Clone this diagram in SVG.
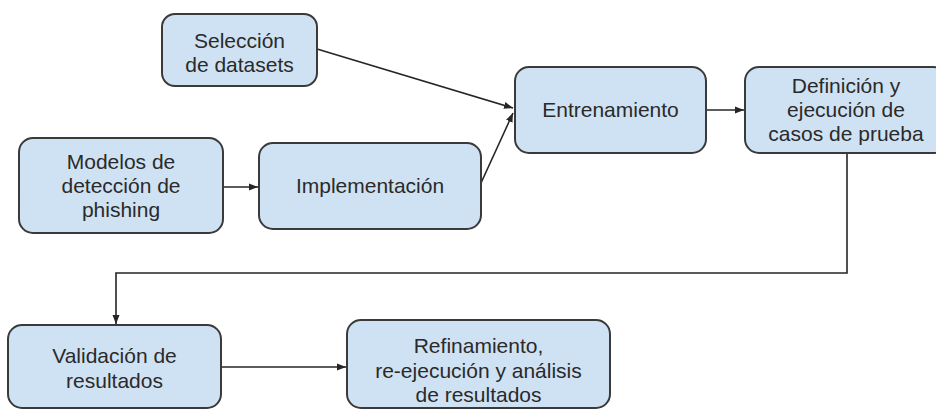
<svg xmlns="http://www.w3.org/2000/svg" width="936" height="410" viewBox="0 0 936 410">
<style>
.box{fill:#cfe2f3;stroke:#3a3a3a;stroke-width:2}
.t{font-family:"Liberation Sans",Arial,sans-serif;font-size:21px;fill:#2a2a2a;text-anchor:middle}
.c{fill:none;stroke:#262626;stroke-width:1.6}
</style>
<defs>
<marker id="ah" markerUnits="userSpaceOnUse" markerWidth="10" markerHeight="8" refX="9" refY="4" orient="auto">
<path d="M0,0.5 L9,4 L0,7.5 Z" fill="#262626"/>
</marker>
</defs>
<rect width="936" height="410" fill="#ffffff"/>
<g id="connectors">
<path class="c" d="M317,49 L513,108" marker-end="url(#ah)"/>
<path class="c" d="M481,183 L513,113" marker-end="url(#ah)"/>
<path class="c" d="M223,187 L258,187" marker-end="url(#ah)"/>
<path class="c" d="M706,110 L744,110" marker-end="url(#ah)"/>
<path class="c" d="M847,153 V273 H116 V324" marker-end="url(#ah)"/>
<path class="c" d="M221,367 H346" marker-end="url(#ah)"/>
</g>
<g id="seleccion">
<rect class="box" x="162" y="14" width="155" height="72" rx="13"/>
<text class="t" x="239.5" y="48">Selección</text>
<text class="t" x="239.5" y="72">de datasets</text>
</g>
<g id="modelos">
<rect class="box" x="19" y="138" width="204" height="95" rx="14"/>
<text class="t" x="121" y="169">Modelos de</text>
<text class="t" x="121" y="193">detección de</text>
<text class="t" x="121" y="217">phishing</text>
</g>
<g id="implementacion">
<rect class="box" x="259" y="143" width="222" height="86" rx="14"/>
<text class="t" x="370" y="193">Implementación</text>
</g>
<g id="entrenamiento">
<rect class="box" x="515" y="67" width="191" height="86" rx="14"/>
<text class="t" x="610.5" y="117">Entrenamiento</text>
</g>
<g id="definicion">
<rect class="box" x="745" y="67" width="202" height="86" rx="14"/>
<text class="t" x="846" y="93">Definición y</text>
<text class="t" x="846" y="117">ejecución de</text>
<text class="t" x="846" y="141">casos de prueba</text>
</g>
<g id="validacion">
<rect class="box" x="8" y="325" width="213" height="83" rx="14"/>
<text class="t" x="114.5" y="363">Validación de</text>
<text class="t" x="114.5" y="388">resultados</text>
</g>
<g id="refinamiento">
<rect class="box" x="347" y="320" width="263" height="88" rx="14"/>
<text class="t" x="478.5" y="353">Refinamiento,</text>
<text class="t" x="478.5" y="378">re-ejecución y análisis</text>
<text class="t" x="478.5" y="402">de resultados</text>
</g>
</svg>
